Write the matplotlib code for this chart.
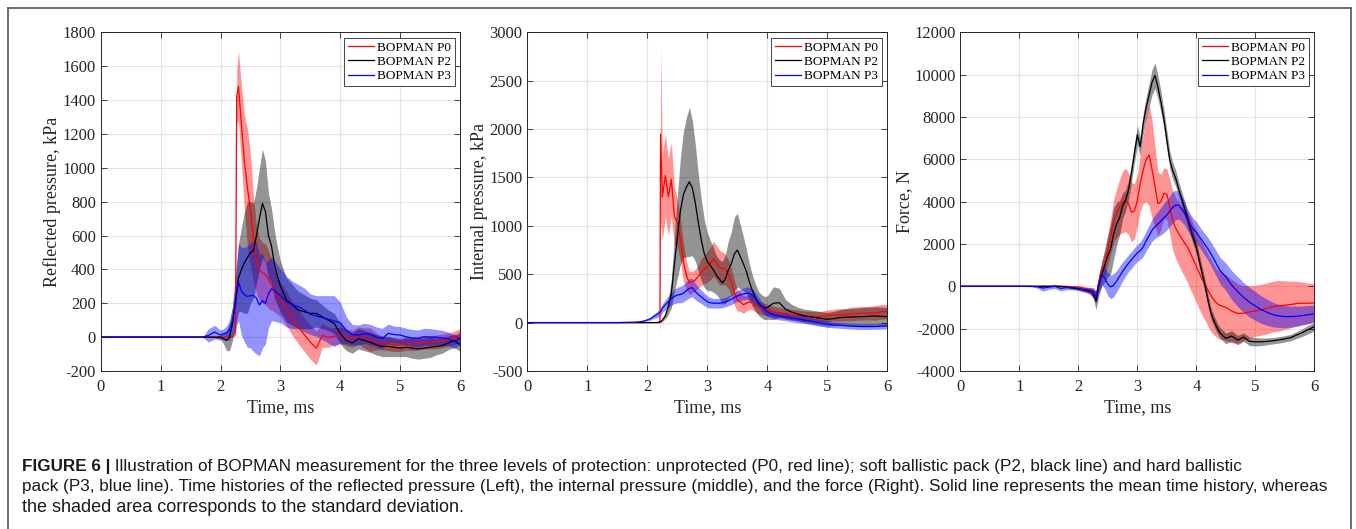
import matplotlib
import matplotlib.pyplot as plt
from matplotlib.lines import Line2D

matplotlib.use("Agg")

plt.rcParams["font.family"] = ["Liberation Serif", "DejaVu Serif"]
plt.rcParams["axes.unicode_minus"] = False

# ---- data (time in ms) ----
series_names = ["BOPMAN P0", "BOPMAN P2", "BOPMAN P3"]
series_colors = ["#ff0000", "#000000", "#0000ff"]

# left panel: reflected pressure, kPa
t_left = [0, 1.7, 1.8, 1.9,
          2.0, 2.05, 2.1, 2.15, 2.2, 2.25, 2.27,
          2.3, 2.35, 2.4, 2.45, 2.5, 2.55, 2.6, 2.65, 2.7, 2.75, 2.8, 2.85, 2.9, 2.95, 3.0,
          3.1, 3.2, 3.3, 3.4, 3.5, 3.6, 3.7, 3.8, 3.9, 4.0,
          4.1, 4.2, 4.3, 4.4, 4.5, 4.6, 4.7, 4.8, 4.9, 5.0,
          5.1, 5.2, 5.3, 5.4, 5.5, 5.6, 5.7, 5.8, 5.9, 6.0]
p0_left = [0, 0, 0, 0,
           0, 0, 0, 0, 5, 30, 1420,
           1480, 1250, 1030, 880, 750, 580, 460, 400, 380, 370, 340, 310, 270, 245, 225,
           170, 110, 60, 15, -30, -65, 10, 0, 5, 10,
           0, -10, 10, -5, -15, -25, -35, -40, -45, -45,
           -38, -40, -35, -30, -30, -28, -22, -15, -5, 10]
p0_left_sd = [0, 0, 0, 0,
              0, 0, 0, 0, 5, 20, 150,
              210, 230, 280, 350, 330, 250, 200, 180, 180, 180, 170, 150, 120, 110, 100,
              100, 100, 100, 100, 100, 100, 70, 60, 50, 50,
              50, 50, 50, 60, 70, 50, 40, 40, 40, 40,
              40, 40, 40, 40, 40, 40, 40, 40, 40, 40]
p2_left = [0, 0, 0, 0,
           0, -10, -20, 0, 80, 220, 270,
           350, 400, 440, 470, 500, 510, 600, 700, 790, 740, 600, 540, 430, 360, 300,
           220, 190, 160, 150, 140, 140, 120, 100, 80, 20,
           -20, -35, -10, -20, -30, -45, -55, -55, -60, -65,
           -60, -65, -70, -65, -60, -55, -50, -35, -20, -45]
p2_left_sd = [0, 0, 0, 5,
              10, 30, 60, 80, 100, 150, 170,
              200, 250, 300, 330, 300, 280, 280, 300, 320, 300, 250, 220, 200, 170, 150,
              130, 120, 110, 100, 90, 80, 70, 60, 60, 60,
              60, 60, 60, 60, 60, 60, 60, 60, 55, 50,
              55, 60, 60, 60, 60, 50, 45, 40, 40, 40]
p3_left = [0, 0, 10, 30,
           12, 20, 25, 40, 100, 190, 250,
           326, 270, 250, 240, 245, 245, 230, 190, 215, 200, 255, 285, 275, 258, 245,
           210, 190, 180, 160, 135, 125, 115, 105, 95, 85,
           40, 15, 12, 22, 15, 0, -8, 22, 15, 12,
           2, -5, -8, 2, 0, 0, -5, -10, -28, -8]
p3_left_sd = [0, 0, 40, 40,
              30, 30, 40, 60, 80, 150, 180,
              230, 260, 280, 300, 310, 330, 330, 300, 280, 240, 200, 190, 180, 170, 160,
              150, 140, 130, 130, 120, 120, 130, 140, 150, 120,
              80, 60, 60, 60, 60, 60, 60, 55, 50, 50,
              50, 50, 50, 50, 50, 45, 45, 40, 40, 40]

# middle panel: internal pressure, kPa
t_mid = [0, 1.5, 1.7, 1.8, 1.9,
         2.0, 2.05, 2.1, 2.15, 2.2, 2.21, 2.22,
         2.25, 2.3, 2.35, 2.4, 2.45, 2.5, 2.55, 2.6, 2.65, 2.7,
         2.75, 2.8, 2.85, 2.9, 2.95, 3.0, 3.05, 3.1, 3.15, 3.2,
         3.25, 3.3, 3.35, 3.4, 3.45, 3.5, 3.55, 3.6, 3.65, 3.7,
         3.75, 3.8, 3.85, 3.9, 3.95, 4.0,
         4.1, 4.2, 4.3, 4.4, 4.5, 4.6, 4.7, 4.8, 4.9, 5.0,
         5.1, 5.2, 5.3, 5.4, 5.5, 5.6, 5.7, 5.8, 5.9, 6.0]
p0_mid = [0, 0, 0, 0, 0,
          0, 0, 0, 0, 0, 10, 1950,
          1300, 1520, 1300, 1480, 1100, 1030, 870, 630, 490, 410,
          420, 440, 480, 520, 550, 580, 610, 660, 620, 570,
          560, 550, 500, 420, 310, 230, 215, 185, 200, 215,
          205, 180, 160, 148, 138, 130,
          114, 100, 92, 82, 75, 66, 62, 62, 62, 70,
          78, 80, 82, 88, 95, 96, 98, 100, 112, 114]
p0_mid_sd = [0, 0, 0, 0, 0,
             0, 0, 0, 0, 0, 100, 900,
             450, 420, 400, 380, 300, 250, 220, 200, 150, 120,
             110, 110, 120, 140, 150, 160, 170, 180, 180, 180,
             170, 160, 150, 140, 130, 110, 100, 90, 80, 80,
             75, 70, 70, 65, 60, 60,
             55, 55, 55, 55, 55, 55, 55, 55, 55, 60,
             60, 65, 65, 70, 70, 70, 70, 75, 75, 75]
p2_mid = [0, 0, 0, 0, 0,
          0, 0, 0, 0, 5, 8, 10,
          25, 70, 165, 300, 600, 880, 1150, 1320, 1400, 1455,
          1390, 1234, 1030, 850, 710, 630, 590, 545, 490, 450,
          410, 450, 545, 610, 710, 750, 680, 610, 530, 420,
          330, 260, 200, 170, 150, 155,
          200, 205, 140, 110, 90, 72, 62, 52, 42, 35,
          40, 52, 55, 58, 60, 62, 66, 68, 65, 62]
p2_mid_sd = [0, 0, 0, 0, 0,
             0, 0, 0, 0, 5, 5, 8,
             15, 30, 80, 150, 280, 420, 550, 650, 720, 770,
             700, 600, 500, 420, 350, 300, 260, 230, 200, 200,
             220, 250, 300, 330, 380, 380, 330, 280, 230, 190,
             160, 140, 125, 120, 120, 120,
             170, 150, 100, 80, 70, 70, 70, 70, 70, 70,
             75, 80, 85, 90, 90, 95, 95, 95, 95, 95]
p3_mid = [0, 0, 3, 5, 10,
          28, 40, 62, 80, 100, 105, 110,
          150, 185, 217, 250, 270, 285, 290, 303, 330, 355,
          360, 320, 290, 265, 240, 215, 205, 200, 200, 200,
          205, 212, 225, 240, 260, 275, 286, 295, 303, 300,
          285, 250, 210, 170, 135, 112,
          80, 68, 60, 48, 38, 28, 18, 5, -5, -15,
          -24, -28, -33, -37, -40, -41, -41, -40, -38, -35]
p3_mid_sd = [0, 0, 3, 5, 5,
             10, 15, 20, 30, 40, 40, 40,
             45, 50, 60, 70, 75, 80, 85, 90, 95, 100,
             95, 85, 75, 70, 65, 60, 55, 50, 50, 50,
             50, 50, 50, 55, 55, 55, 60, 60, 65, 65,
             65, 60, 55, 50, 50, 45,
             40, 40, 40, 40, 40, 35, 35, 35, 35, 35,
             30, 30, 30, 30, 30, 30, 30, 30, 30, 30]

# right panel: force, N
t_right = [0, 1.0, 1.1, 1.2, 1.3, 1.4, 1.5, 1.6, 1.7, 1.8, 1.9,
           2.0, 2.05, 2.1, 2.15, 2.2, 2.25, 2.3, 2.35, 2.4, 2.45,
           2.5, 2.55, 2.6, 2.65, 2.7, 2.75, 2.8, 2.85, 2.9, 2.95,
           3.0, 3.05, 3.1, 3.15, 3.2, 3.25, 3.3, 3.35, 3.4, 3.45,
           3.5, 3.55, 3.6, 3.65, 3.7, 3.75, 3.8, 3.85, 3.9, 3.95,
           4.0, 4.05, 4.1, 4.15, 4.2, 4.25, 4.3, 4.35, 4.4,
           4.5, 4.6, 4.7, 4.8, 4.9, 5.0, 5.1, 5.2, 5.3, 5.4,
           5.5, 5.6, 5.7, 5.8, 5.9, 6.0]
p0_right = [0, 0, 0, 0, 0, 0, 0, 0, 0, 0, -20,
            -40, -60, -100, -150, -200, -330, -480, 250, 770, 1090,
            1700, 2400, 3100, 3450, 3750, 3980, 4080, 3900, 3500, 3550,
            4050, 4870, 5500, 6000, 6200, 5500, 4710, 3900, 4000, 4400,
            4350, 3750, 3100, 2750, 2500, 2270, 2050, 1850, 1550, 1250,
            930, 620, 330, 80, -200, -450, -650, -820, -900,
            -1000, -1170, -1280, -1270, -1210, -1160, -1110, -1040, -960, -920,
            -890, -860, -810, -800, -800, -780]
p0_right_sd = [0, 0, 0, 0, 0, 0, 0, 0, 0, 20, 40,
               60, 80, 100, 120, 150, 200, 250, 300, 400, 550,
               700, 850, 1000, 1150, 1300, 1450, 1500, 1450, 1400, 1300,
               1200, 1300, 1600, 2000, 2400, 2300, 1900, 1500, 1300, 1200,
               1200, 1300, 1400, 1450, 1500, 1550, 1600, 1650, 1700, 1700,
               1700, 1700, 1700, 1700, 1700, 1700, 1650, 1600, 1600,
               1550, 1500, 1400, 1300, 1250, 1200, 1200, 1200, 1200, 1200,
               1150, 1100, 1050, 1000, 950, 900]
p2_right = [0, 0, 0, 0, 0, 0, 0, 0, 0, -40, -80,
            -120, -150, -170, -200, -230, -300, -700, 100, 615, 1000,
            1450, 1800, 2500, 2950, 3250, 3800, 4050, 4550, 5350, 6280,
            7150, 6600, 7700, 8450, 9050, 9650, 9950, 9400, 8700, 7900,
            6910, 5970, 5450, 5100, 4600, 4150, 3700, 3200, 2700, 2250,
            1850, 1200, 600, -15, -700, -1300, -1650, -1950, -2200,
            -2460, -2350, -2540, -2400, -2600, -2620, -2620, -2600, -2570, -2530,
            -2480, -2420, -2300, -2180, -2040, -1900]
p2_right_sd = [0, 0, 0, 0, 0, 0, 0, 0, 0, 30, 50,
               60, 80, 100, 120, 150, 250, 400, 500, 600, 800,
               1000, 1200, 1200, 1000, 800, 600, 500, 450, 450, 450,
               450, 450, 500, 500, 550, 600, 600, 550, 500, 450,
               450, 400, 400, 380, 350, 350, 330, 300, 300, 300,
               300, 300, 300, 300, 280, 260, 250, 250, 250,
               250, 250, 220, 200, 200, 200, 180, 160, 150, 150,
               150, 150, 160, 180, 200, 200]
p3_right = [0, 0, 0, 0, -20, -80, -40, 0, -100, -60, -60,
            -100, -140, -160, -170, -200, -330, -490, 100, 535, 380,
            100, -30, 60, 250, 480, 700, 900, 1090, 1250, 1420,
            1580, 1680, 1870, 2150, 2400, 2650, 2820, 2950, 3080, 3230,
            3370, 3550, 3740, 3840, 3830, 3650, 3450, 3150, 2900, 2700,
            2550, 2350, 2150, 1950, 1750, 1520, 1270, 1010, 750,
            450, 50, -250, -520, -750, -930, -1100, -1230, -1340, -1400,
            -1430, -1430, -1420, -1380, -1340, -1300]
p3_right_sd = [0, 0, 0, 20, 60, 150, 100, 100, 120, 100, 100,
               90, 90, 100, 110, 120, 200, 300, 400, 450, 500,
               550, 550, 550, 500, 480, 450, 420, 400, 400, 400,
               400, 420, 450, 470, 500, 520, 550, 600, 650, 700,
               700, 720, 750, 700, 650, 600, 550, 520, 500, 500,
               500, 500, 500, 520, 540, 560, 580, 600, 620,
               650, 680, 700, 700, 700, 680, 650, 620, 580, 550,
               520, 500, 480, 450, 430, 400]

caption_head = "FIGURE 6 |"
caption_lines = [
    " Illustration of BOPMAN measurement for the three levels of protection: unprotected (P0, red line); "
    "soft ballistic pack (P2, black line) and hard ballistic",
    "pack (P3, blue line). Time histories of the reflected pressure (Left), the internal pressure (middle), "
    "and the force (Right). Solid line represents the mean time history, whereas",
    "the shaded area corresponds to the standard deviation.",
]

panels = [
    dict(t=t_left, means=[p0_left, p2_left, p3_left], sds=[p0_left_sd, p2_left_sd, p3_left_sd],
         ylim=(-200, 1800), yticks=range(-200, 1801, 200), ylabel="Reflected pressure, kPa",
         rect=[0.0743, 0.2987, 0.2650, 0.6403]),
    dict(t=t_mid, means=[p0_mid, p2_mid, p3_mid], sds=[p0_mid_sd, p2_mid_sd, p3_mid_sd],
         ylim=(-500, 3000), yticks=range(-500, 3001, 500), ylabel="Internal pressure, kPa",
         rect=[0.3889, 0.2987, 0.2655, 0.6403]),
    dict(t=t_right, means=[p0_right, p2_right, p3_right], sds=[p0_right_sd, p2_right_sd, p3_right_sd],
         ylim=(-4000, 12000), yticks=range(-4000, 12001, 2000), ylabel="Force, N",
         rect=[0.7082, 0.2987, 0.2611, 0.6403]),
]

W, H = 1356, 529
fig = plt.figure(figsize=(W / 100, H / 100), dpi=100)

for p in panels:
    ax = fig.add_axes(p["rect"])
    t = p["t"]
    handles = []
    for name, color, mean, sd in zip(series_names, series_colors, p["means"], p["sds"]):
        lo = [m - s for m, s in zip(mean, sd)]
        hi = [m + s for m, s in zip(mean, sd)]
        ax.fill_between(t, lo, hi, color=color, alpha=0.42, linewidth=0, zorder=2)
        ln, = ax.plot(t, mean, color=color, linewidth=0.9, zorder=3, label=name)
        handles.append(ln)

    ax.set_xlim(0, 6)
    ax.set_ylim(*p["ylim"])
    ax.set_xticks(range(0, 7))
    ax.set_yticks(list(p["yticks"]))
    ax.grid(True, color="#e3e3e3", linewidth=0.8, zorder=0)
    ax.set_axisbelow(True)
    ax.tick_params(direction="in", top=True, right=True, length=4, width=0.6,
                   labelsize=12, colors="#262626", labelcolor="#262626")
    ax.tick_params(axis="x", pad=6)
    for sp in ax.spines.values():
        sp.set_color("#262626")
        sp.set_linewidth(0.7)
    ax.set_xlabel("Time, ms", fontsize=13, labelpad=3, color="#262626")
    ax.set_ylabel(p["ylabel"], fontsize=13, labelpad=1, color="#262626")

    leg = ax.legend(handles=handles, loc="upper right", fontsize=9.5, fancybox=False,
                    framealpha=1, edgecolor="#262626", borderpad=0.3, labelspacing=0.15,
                    handlelength=2.0, handletextpad=0.2, borderaxespad=0.4)
    leg.get_frame().set_linewidth(0.6)

# outer frame around figure and caption
frame_kw = dict(color="#555555", linewidth=1.2, transform=fig.transFigure)
x0, x1, ytop = 8 / W, 1351 / W, 1 - 8 / H
fig.add_artist(Line2D([x0, x1], [ytop, ytop], **frame_kw))
fig.add_artist(Line2D([x0, x0], [ytop, 0], **frame_kw))
fig.add_artist(Line2D([x1, x1], [ytop, 0], **frame_kw))

# caption, sized so the lines span roughly the same width as in the original
renderer = fig.canvas.get_renderer()
cap_font = ["Liberation Sans", "DejaVu Sans"]


def fit_size(text, width_px):
    probe = fig.text(0, 0, text, fontsize=12, family=cap_font)
    w = probe.get_window_extent(renderer).width
    probe.remove()
    return 12 * width_px / w


body_size = fit_size(caption_lines[1], 1300)
last_size = fit_size(caption_lines[2], 444)

cap_x = 22 / W
cap_y = [1 - 466 / H, 1 - 487 / H, 1 - 508 / H]
ink = "#1a1a1a"
head = fig.text(cap_x, cap_y[0], caption_head, fontsize=body_size, family=cap_font,
                weight="bold", va="center", color=ink)
hx = head.get_window_extent(renderer).x1 / W
fig.text(hx, cap_y[0], caption_lines[0], fontsize=body_size, family=cap_font,
         va="center", color=ink)
fig.text(cap_x, cap_y[1], caption_lines[1], fontsize=body_size, family=cap_font,
         va="center", color=ink)
fig.text(cap_x, cap_y[2], caption_lines[2], fontsize=last_size, family=cap_font,
         va="center", color=ink)

fig.savefig("out.png", dpi=100)
